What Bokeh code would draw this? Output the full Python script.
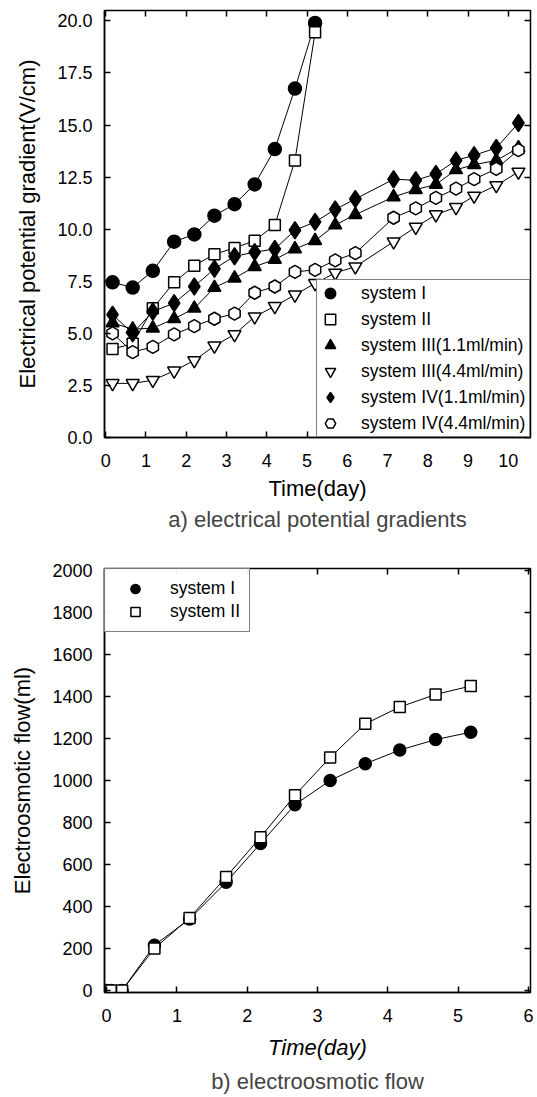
import numpy as np
from bokeh.plotting import figure
from bokeh.models import (Range1d, LinearAxis, SingleIntervalTicker, Title,
                          NumeralTickFormatter, CustomJSTickFormatter)
from bokeh.layouts import column
from bokeh.embed import file_html
from bokeh.resources import INLINE

# ---------------- panel a: electrical potential gradients ----------------
t_sys12 = [0.17, 0.67, 1.17, 1.7, 2.2, 2.7, 3.2, 3.7, 4.2, 4.7, 5.2]
grad_I = [7.45, 7.2, 8.0, 9.4, 9.75, 10.65, 11.2, 12.15, 13.85, 16.75, 19.9]
grad_II = [4.25, 4.5, 6.2, 7.45, 8.25, 8.8, 9.1, 9.45, 10.2, 13.3, 19.45]
t_sys34 = [0.17, 0.67, 1.17, 1.7, 2.2, 2.7, 3.2, 3.7, 4.2, 4.7, 5.2, 5.7, 6.2,
           7.15, 7.7, 8.2, 8.7, 9.15, 9.7, 10.25]
grad_III_11 = [5.5, 5.2, 5.25, 5.7, 6.2, 7.2, 7.65, 8.2, 8.55, 9.05, 9.45, 10.2,
               10.7, 11.55, 11.9, 12.15, 12.85, 13.1, 13.3, 13.9]
grad_III_44 = [2.6, 2.6, 2.75, 3.2, 3.7, 4.4, 4.95, 5.8, 6.3, 6.85, 7.4, 7.9,
               8.2, 9.4, 10.1, 10.7, 11.05, 11.6, 12.1, 12.75]
grad_IV_11 = [5.9, 5.0, 6.05, 6.45, 7.25, 8.1, 8.7, 8.9, 9.05, 9.95, 10.35, 10.95,
              11.45, 12.4, 12.35, 12.65, 13.3, 13.55, 13.9, 15.1]
grad_IV_44 = [5.0, 4.1, 4.35, 4.95, 5.35, 5.7, 5.95, 6.95, 7.25, 7.95, 8.05, 8.5,
              8.85, 10.55, 11.0, 11.5, 11.95, 12.4, 12.9, 13.8]
labels_a = ["system I", "system II", "system III(1.1ml/min)", "system III(4.4ml/min)",
            "system IV(1.1ml/min)", "system IV(4.4ml/min)"]

# ---------------- panel b: electroosmotic flow ----------------
t_flow = [0.0, 0.06, 0.22, 0.68, 1.18, 1.7, 2.19, 2.68, 3.18, 3.68, 4.17, 4.68, 5.18]
flow_I = [0, 0, 0, 215, 340, 515, 700, 885, 1000, 1080, 1145, 1195, 1230]
flow_II = [0, 0, 0, 200, 345, 540, 730, 930, 1110, 1270, 1350, 1410, 1450]
labels_b = ["system I", "system II"]

FONT = "Liberation Sans"
BLANK = CustomJSTickFormatter(code="return ''")


def style_axes(p, xstep, ystep, italic_x=False):
    for ax in p.xaxis + p.yaxis:
        ax.major_tick_in = 6
        ax.major_tick_out = 0
        ax.minor_tick_line_color = None
        ax.axis_line_width = 1.5
        ax.major_tick_line_width = 1.5
        ax.axis_line_color = "black"
        ax.major_label_text_font = FONT
        ax.major_label_text_font_size = "18px"
        ax.major_label_text_color = "black"
        ax.axis_label_text_font = FONT
        ax.axis_label_text_font_size = "22px"
        ax.axis_label_text_font_style = "normal"
        ax.axis_label_text_color = "black"
    p.xaxis.ticker = SingleIntervalTicker(interval=xstep)
    p.yaxis.ticker = SingleIntervalTicker(interval=ystep)
    p.xaxis.major_label_standoff = 12
    p.yaxis.major_label_standoff = 8
    p.xaxis.axis_label_standoff = 6
    p.yaxis.axis_label_standoff = 14
    if italic_x:
        p.xaxis.axis_label_text_font_style = "italic"
        p.xaxis.axis_label_standoff = 10
    for loc, step in (("above", xstep), ("right", ystep)):
        ax = LinearAxis(ticker=SingleIntervalTicker(interval=step), formatter=BLANK,
                        major_label_text_font_size="1px", major_label_standoff=0,
                        major_tick_in=6, major_tick_out=0, major_tick_line_width=1.5,
                        minor_tick_line_color=None, axis_line_color=None)
        p.add_layout(ax, loc)
    p.outline_line_color = "black"
    p.outline_line_width = 1.5
    p.xgrid.grid_line_color = None
    p.ygrid.grid_line_color = None


# ---------------- figure a ----------------
pa = figure(width=537, height=548, output_backend="svg", toolbar_location=None,
            x_range=Range1d(-0.03, 10.55), y_range=Range1d(0, 20.5),
            min_border_left=104, min_border_right=7, min_border_top=10,
            min_border_bottom=111, x_axis_label="Time(day)",
            y_axis_label="Electrical potential gradient(V/cm)")
pa.background_fill_color = "white"
pa.border_fill_color = "white"

# (times, values, marker, size, fill, angle)
series_a = [
    (t_sys12, grad_I, "circle", 13, "black", 0.0),
    (t_sys12, grad_II, "square", 11, "white", 0.0),
    (t_sys34, grad_III_11, "triangle", 13, "black", 0.0),
    (t_sys34, grad_III_44, "inverted_triangle", 13, "white", 0.0),
    (t_sys34, grad_IV_11, "diamond", 17, "black", 0.0),
    (t_sys34, grad_IV_44, "hex", 13, "white", np.pi / 6),
]
for s in series_a:
    pa.line(s[0], s[1], line_color="black", line_width=1)
for (tx, vy, mk, sz, fc, ang), lab in zip(series_a, labels_a):
    pa.scatter(tx, vy, marker=mk, size=sz, fill_color=fc, line_color="black",
               line_width=1.5, angle=ang, legend_label=lab)

style_axes(pa, 1, 2.5)
pa.yaxis[0].formatter = NumeralTickFormatter(format="0.0")

lg = pa.legend[0]
lg.location = "bottom_right"
lg.margin = 0
lg.padding = 0
lg.spacing = 0
lg.glyph_width = 26
lg.glyph_height = 26
lg.label_standoff = 18
lg.label_width = 168
lg.label_text_font = FONT
lg.label_text_font_size = "17.5px"
lg.label_text_color = "black"
lg.border_line_color = "black"
lg.border_line_width = 1.2
lg.background_fill_alpha = 1.0

ta = Title(text="a) electrical potential gradients", align="center",
           text_font=FONT, text_font_size="22px", text_font_style="normal",
           standoff=2)
pa.add_layout(ta, "below")

# ---------------- figure b ----------------
pb = figure(width=537, height=549, output_backend="svg", toolbar_location=None,
            x_range=Range1d(-0.03, 6.03), y_range=Range1d(-10, 2010),
            min_border_left=100, min_border_right=7, min_border_top=20,
            min_border_bottom=101, x_axis_label="Time(day)",
            y_axis_label="Electroosmotic flow(ml)")
pb.background_fill_color = "white"
pb.border_fill_color = "white"

series_b = [
    (flow_I, "circle", 12, "black"),
    (flow_II, "square", 11, "white"),
]
for (vy, mk, sz, fc), lab in zip(series_b, labels_b):
    pb.line(t_flow, vy, line_color="black", line_width=1)
for (vy, mk, sz, fc), lab in zip(series_b, labels_b):
    pb.scatter(t_flow, vy, marker=mk, size=sz, fill_color=fc, line_color="black",
               line_width=1.5, legend_label=lab)

style_axes(pb, 1, 200, italic_x=True)

lb = pb.legend[0]
lb.location = "top_left"
lb.margin = 0
lb.padding = 8
lb.spacing = 0
lb.glyph_width = 44
lb.glyph_height = 23
lb.label_standoff = 13
lb.label_width = 71
lb.label_text_font = FONT
lb.label_text_font_size = "17.5px"
lb.label_text_color = "black"
lb.border_line_color = "black"
lb.border_line_width = 1.2

tb = Title(text="b) electroosmotic flow", align="center",
           text_font=FONT, text_font_size="22px", text_font_style="normal",
           standoff=8)
pb.add_layout(tb, "below")

layout = column(pa, pb, spacing=0)
open("out.html", "w").write(file_html(layout, INLINE))
